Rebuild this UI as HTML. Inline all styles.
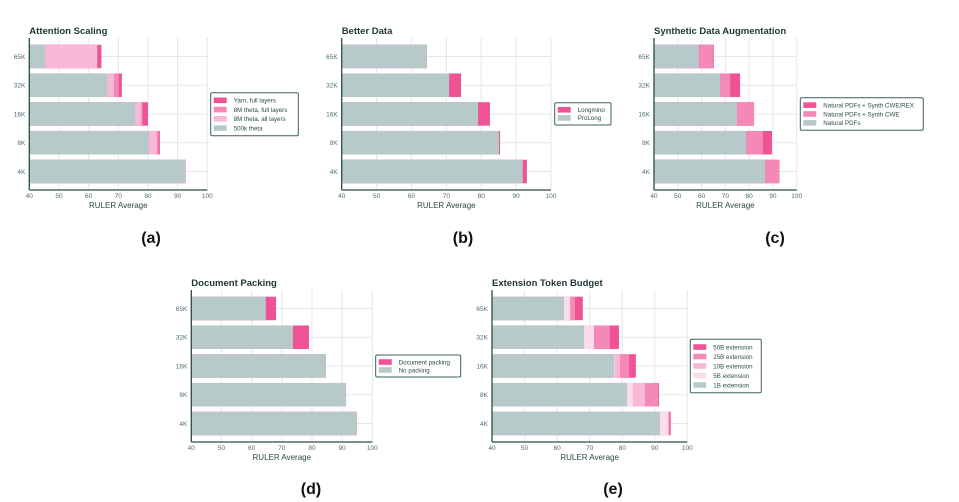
<!DOCTYPE html>
<html><head><meta charset="utf-8">
<style>
body{margin:0;background:#fff;}
svg{display:block;font-family:"Liberation Sans",sans-serif;}
</style></head>
<body>
<svg id="fig" width="959" height="502" viewBox="0 0 959 502" xmlns="http://www.w3.org/2000/svg"></svg>
<script>
const categories = ["65K","32K","16K","8K","4K"];
const xTicks = [40,50,60,70,80,90,100];
// (a) Attention Scaling
const aLabels = ["Yarn, full layers","8M theta, full layers","8M theta, all layers","500k theta"];
const aYarn = [64.3,71.2,80.0,84.0,92.7];
const a8MFull = [63.0,70.2,78.1,83.6,92.7];
const a8MAll = [62.8,68.5,77.8,83.0,92.6];
const a500k = [45.3,66.3,75.7,80.3,92.5];
// (b) Better Data
const bLabels = ["Longmino","ProLong"];
const bLongmino = [64.4,74.2,82.5,85.4,93.1];
const bProLong = [64.4,70.8,79.1,85.1,91.9];
// (c) Synthetic Data Augmentation
const cLabels = ["Natural PDFs + Synth CWE/REX","Natural PDFs + Synth CWE","Natural PDFs"];
const cRex = [65.2,76.2,82.0,89.6,92.0];
const cCwe = [65.0,72.0,82.1,85.8,92.8];
const cNat = [58.8,67.8,74.9,78.7,86.7];
// (d) Document Packing
const dLabels = ["Document packing","No packing"];
const dPack = [68.1,79.0,84.6,91.3,94.9];
const dNo = [64.7,73.7,84.6,91.3,94.9];
// (e) Extension Token Budget
const eLabels = ["50B extension","25B extension","10B extension","5B extension","1B extension"];
const e50 = [67.9,79.0,84.2,91.3,94.9];
const e25 = [65.5,76.2,82.1,91.1,94.5];
const e10 = [64.0,71.3,79.3,87.0,94.2];
const e5 = [64.0,71.3,77.7,83.3,94.2];
const e1 = [62.1,68.3,77.5,81.5,91.6];

const NS="http://www.w3.org/2000/svg";
const svg=document.getElementById('fig');
const C={dark:"#ef5295",mid:"#f489b8",light:"#f7b9d6",vlight:"#fbdcea",grey:"#b8c9c9"};
function mk(tag,attrs,parent){const e=document.createElementNS(NS,tag);for(const k in attrs)e.setAttribute(k,attrs[k]);(parent||svg).appendChild(e);return e;}
function txt(s,attrs,parent){const t=mk('text',attrs,parent);t.textContent=s;return t;}

function panel(p){
  const g=mk('g',{});
  
  
  const x=v=>p.x0+(v-40)/60*(p.x1-p.x0);
  const step=28.75, bh=23.5;
  const yc=i=>p.top+4.1+step*i+step/2;
  xTicks.forEach(t=>{const l=mk('line',{x1:x(t),x2:x(t),y1:p.top,y2:p.bottom,stroke:"#e2e9e9","stroke-width":1},g);
    });
  categories.forEach((c,i)=>{const l=mk('line',{x1:p.x0,x2:p.x1,y1:yc(i),y2:yc(i),stroke:"#e2e9e9","stroke-width":1},g);
    });
  p.series.forEach(s=>{
    s.vals.forEach((v,i)=>{
      const r=mk('rect',{x:p.x0,y:yc(i)-bh/2,width:Math.max(0,x(v)-p.x0),height:bh,fill:s.color},g);
      
      
    });
  });
  const ax=mk('line',{x1:p.x0,x2:p.x1,y1:p.bottom,y2:p.bottom,stroke:"#2d4a4a","stroke-width":1.3},g);
  
  const ay=mk('line',{x1:p.x0,x2:p.x0,y1:p.top,y2:p.bottom,stroke:"#2d4a4a","stroke-width":1.3},g);
  
  xTicks.forEach(t=>{const e=txt(String(t),{x:x(t),y:p.bottom+8,"font-size":6.5,fill:"#4d6b6b","text-anchor":"middle"},g);
    });
  categories.forEach((c,i)=>{const e=txt(c,{x:p.x0-4,y:yc(i)+2.3,"font-size":6.5,fill:"#4d6b6b","text-anchor":"end"},g);
    });
  const xt=txt("RULER Average",{x:(p.x0+p.x1)/2,y:p.bottom+18,"font-size":8,fill:"#2d4a4a","text-anchor":"middle"},g);
  
  const tt=txt(p.title,{x:p.x0,y:p.top-4,"font-size":9.5,"font-weight":"bold",fill:"#1f3535"},g);
  
  const L=p.legend;
  const lg=mk('g',{},g);
  
  mk('rect',{x:L.x,y:L.y,width:L.w,height:L.h,fill:"#fff",stroke:"#3d5f5f","stroke-width":1,rx:1.5},lg);
  const n=L.items.length, rowH=(L.h-6)/n;
  L.items.forEach((it,i)=>{
    const ry=L.y+3+rowH*i+rowH/2;
    const sw=mk('rect',{x:L.x+3,y:ry-2.8,width:13,height:5.6,fill:it.color},lg);
    
    const t=txt(it.label,{x:L.x+23,y:ry+2.3,"font-size":6.2,fill:"#2d4a4a"},lg);
    
  });
  const cap=txt(p.cap,{x:p.capx,y:p.capy,"font-size":16,"font-weight":"bold",fill:"#111","text-anchor":"middle"},g);
  
}

panel({name:"panel-a",title:"Attention Scaling",x0:29.3,x1:207.3,top:38,bottom:190,cap:"(a)",capx:151,capy:243,
  series:[{key:"yarn",vals:aYarn,color:C.dark},{key:"8m-full",vals:a8MFull,color:C.mid},{key:"8m-all",vals:a8MAll,color:C.light},{key:"500k",vals:a500k,color:C.grey}],
  legend:{x:210.7,y:92.7,w:87.6,h:43,items:[{label:aLabels[0],color:C.dark},{label:aLabels[1],color:C.mid},{label:aLabels[2],color:C.light},{label:aLabels[3],color:C.grey}]}});
panel({name:"panel-b",title:"Better Data",x0:341.7,x1:551,top:38,bottom:190,cap:"(b)",capx:463,capy:243,
  series:[{key:"longmino",vals:bLongmino,color:C.dark},{key:"prolong",vals:bProLong,color:C.grey}],
  legend:{x:554.7,y:102.7,w:56.3,h:22.3,items:[{label:bLabels[0],color:C.dark},{label:bLabels[1],color:C.grey}]}});
panel({name:"panel-c",title:"Synthetic Data Augmentation",x0:654,x1:796.7,top:38,bottom:190,cap:"(c)",capx:775,capy:243,
  series:[{key:"rex",vals:cRex,color:C.dark},{key:"cwe",vals:cCwe,color:C.mid},{key:"natural",vals:cNat,color:C.grey}],
  legend:{x:800.3,y:97.7,w:123,h:32.6,items:[{label:cLabels[0],color:C.dark},{label:cLabels[1],color:C.mid},{label:cLabels[2],color:C.grey}]}});
panel({name:"panel-d",title:"Document Packing",x0:191.3,x1:372.3,top:290,bottom:442,cap:"(d)",capx:311,capy:494,
  series:[{key:"packing",vals:dPack,color:C.dark},{key:"no-packing",vals:dNo,color:C.grey}],
  legend:{x:375.7,y:355,w:85,h:22,items:[{label:dLabels[0],color:C.dark},{label:dLabels[1],color:C.grey}]}});
panel({name:"panel-e",title:"Extension Token Budget",x0:492,x1:687.3,top:290,bottom:442,cap:"(e)",capx:613,capy:494,
  series:[{key:"50b",vals:e50,color:C.dark},{key:"25b",vals:e25,color:C.mid},{key:"10b",vals:e10,color:C.light},{key:"5b",vals:e5,color:C.vlight},{key:"1b",vals:e1,color:C.grey}],
  legend:{x:690.3,y:339.3,w:71,h:53.4,items:[{label:eLabels[0],color:C.dark},{label:eLabels[1],color:C.mid},{label:eLabels[2],color:C.light},{label:eLabels[3],color:C.vlight},{label:eLabels[4],color:C.grey}]}});
</script>
</body></html>
